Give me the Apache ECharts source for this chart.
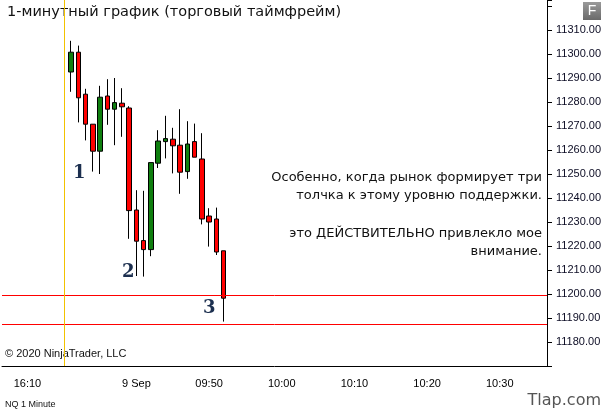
<!DOCTYPE html>
<html>
<head>
<meta charset="utf-8">
<script src="https://cdn.jsdelivr.net/npm/echarts@6/dist/echarts.min.js"></script>
<style>
  html, body { margin: 0; padding: 0; background: #fff; }
  #chart { width: 606px; height: 414px; }
</style>
</head>
<body>
<div id="chart"></div>
<script>
var chart = echarts.init(document.getElementById('chart'));

// minute slots on the axis: previous session tail, then the new day from 09:31
var prevDayTimes = ['16:07', '16:08', '16:09', '16:10', '16:11', '16:12', '16:13', '16:14', '16:15'];
var firstMinute = 9 * 60 + 31;
var slotCount = 75;

// shown x labels: slot -> text
var xLabels = { '16:10': '16:10', '09:40': '9 Sep', '09:50': '09:50', '10:00': '10:00', '10:10': '10:10', '10:20': '10:20', '10:30': '10:30' };

// 1-minute candles [open, close, low, high] starting at 09:31
var candles = [
    [11292.5, 11300.75, 11284.25, 11305.5],
    [11300.75, 11281.75, 11271.5, 11303.5],
    [11283.25, 11270.75, 11264, 11285.5],
    [11270.75, 11259.5, 11251, 11270.75],
    [11259.5, 11282, 11250, 11286.75],
    [11282.5, 11277, 11270.5, 11289.5],
    [11277, 11279.75, 11262, 11290],
    [11279.5, 11278, 11265.5, 11285.75],
    [11277.5, 11234.75, 11223, 11278.25],
    [11235, 11222, 11207.5, 11243.25],
    [11222.25, 11218.5, 11207.25, 11243],
    [11218.5, 11254.75, 11215.75, 11254.75],
    [11254.5, 11263.75, 11252.5, 11268.25],
    [11263.5, 11264.75, 11256.5, 11274.25],
    [11264.5, 11261.75, 11250.25, 11269.25],
    [11262, 11250.75, 11241.75, 11277],
    [11251, 11262.5, 11248, 11272],
    [11263.5, 11257, 11257, 11271],
    [11256.25, 11231.25, 11229, 11267],
    [11232.5, 11230, 11219.75, 11235.75],
    [11231.25, 11217.5, 11216.25, 11236],
    [11218, 11198.25, 11188.5, 11218]
];

// support lines
var levels = [11199.5, 11187.5];
var sessionBreak = '16:15';

function pad(n) { return (n < 10 ? '0' : '') + n; }
var times = prevDayTimes.slice();
while (times.length < slotCount) {
    var m = firstMinute + times.length - prevDayTimes.length;
    times.push(pad(Math.floor(m / 60)) + ':' + pad(m % 60));
}
var seriesData = times.map(function (t, i) {
    var c = candles[i - prevDayTimes.length];
    return c ? c : '-';
});

function showLabel(index, value) {
    return xLabels.hasOwnProperty(value);
}

var option = {
    backgroundColor: '#fff',
    animation: false,
    grid: { left: 2, right: 59, top: 0, bottom: 48 },
    xAxis: {
        type: 'category',
        data: times,
        boundaryGap: true,
        axisLine: { lineStyle: { color: '#000', width: 1 } },
        axisTick: { interval: showLabel, alignWithLabel: true, length: 5, lineStyle: { color: '#000' } },
        axisLabel: {
            interval: showLabel,
            formatter: function (v) { return xLabels[v] || ''; },
            color: '#000', fontFamily: 'Liberation Sans, Arial', fontSize: 11, margin: 12
        },
        splitLine: { show: false }
    },
    yAxis: {
        type: 'value',
        position: 'right',
        min: 11170,
        max: 11322.5,
        interval: 10,
        axisLine: { show: true, lineStyle: { color: '#000', width: 1 } },
        axisTick: { show: true, length: 5, lineStyle: { color: '#000' } },
        axisLabel: {
            formatter: function (v) { return (v <= 11310 && v >= 11180) ? v.toFixed(2) : ''; },
            color: '#0c0c24', fontFamily: 'Liberation Sans, Arial', fontSize: 11, margin: 9
        },
        splitLine: { show: false }
    },
    series: [{
        type: 'candlestick',
        data: seriesData,
        barWidth: 5,
        itemStyle: {
            color: '#0f7f0f', color0: '#ff0000',
            borderColor: '#000', borderColor0: '#000', borderWidth: 1
        },
        markLine: {
            silent: true,
            symbol: 'none',
            label: { show: false },
            data: [
                { yAxis: levels[0], lineStyle: { color: '#ff0000', width: 1, type: 'solid' } },
                { yAxis: levels[1], lineStyle: { color: '#ff0000', width: 1, type: 'solid' } },
                { xAxis: sessionBreak, lineStyle: { color: '#f2c200', width: 1, type: 'solid' } }
            ]
        }
    }],
    graphic: [
        { type: 'text', left: 7, top: 5, style: { text: '1-минутный график (торговый таймфрейм)', font: '14.5px "DejaVu Sans"', fill: '#111' } },
        { type: 'text', right: 64, top: 171, style: { text: 'Особенно, когда рынок формирует три', font: '13px "DejaVu Sans"', fill: '#111', textAlign: 'right' } },
        { type: 'text', right: 64, top: 189, style: { text: 'толчка к этому уровню поддержки.', font: '13px "DejaVu Sans"', fill: '#111', textAlign: 'right' } },
        { type: 'text', right: 64, top: 227, style: { text: 'это ДЕЙСТВИТЕЛЬНО привлекло мое', font: '13px "DejaVu Sans"', fill: '#111', textAlign: 'right' } },
        { type: 'text', right: 64, top: 245, style: { text: 'внимание.', font: '13px "DejaVu Sans"', fill: '#111', textAlign: 'right' } },
        { type: 'text', left: 73, top: 164, style: { text: '1', font: 'bold 18px "DejaVu Serif"', fill: '#1c2f4f' } },
        { type: 'text', left: 122, top: 263, style: { text: '2', font: 'bold 18px "DejaVu Serif"', fill: '#1c2f4f' } },
        { type: 'text', left: 203, top: 299, style: { text: '3', font: 'bold 18px "DejaVu Serif"', fill: '#1c2f4f' } },
        { type: 'text', left: 5, top: 348, style: { text: '© 2020 NinjaTrader, LLC', font: '11px "Liberation Sans"', fill: '#111' } },
        { type: 'text', left: 5, top: 400, style: { text: 'NQ 1 Minute', font: '9px "Liberation Sans"', fill: '#111' } },
        { type: 'text', right: 5, top: 393, style: { text: 'Tlap.com', font: '16px "DejaVu Sans"', fill: '#555' } },
        {
            type: 'group', right: 5, top: 2,
            children: [
                { type: 'rect', shape: { x: 0, y: 0, width: 18, height: 18 },
                  style: { fill: new echarts.graphic.LinearGradient(0, 0, 0, 1, [{ offset: 0, color: '#9a9a9a' }, { offset: 1, color: '#6a6a6a' }]) } },
                { type: 'text', x: 9, y: 9, style: { text: 'F', font: '14px "Liberation Sans"', fill: '#fff', textAlign: 'center', textVerticalAlign: 'middle' } }
            ]
        }
    ]
};

chart.setOption(option);
</script>
</body>
</html>
